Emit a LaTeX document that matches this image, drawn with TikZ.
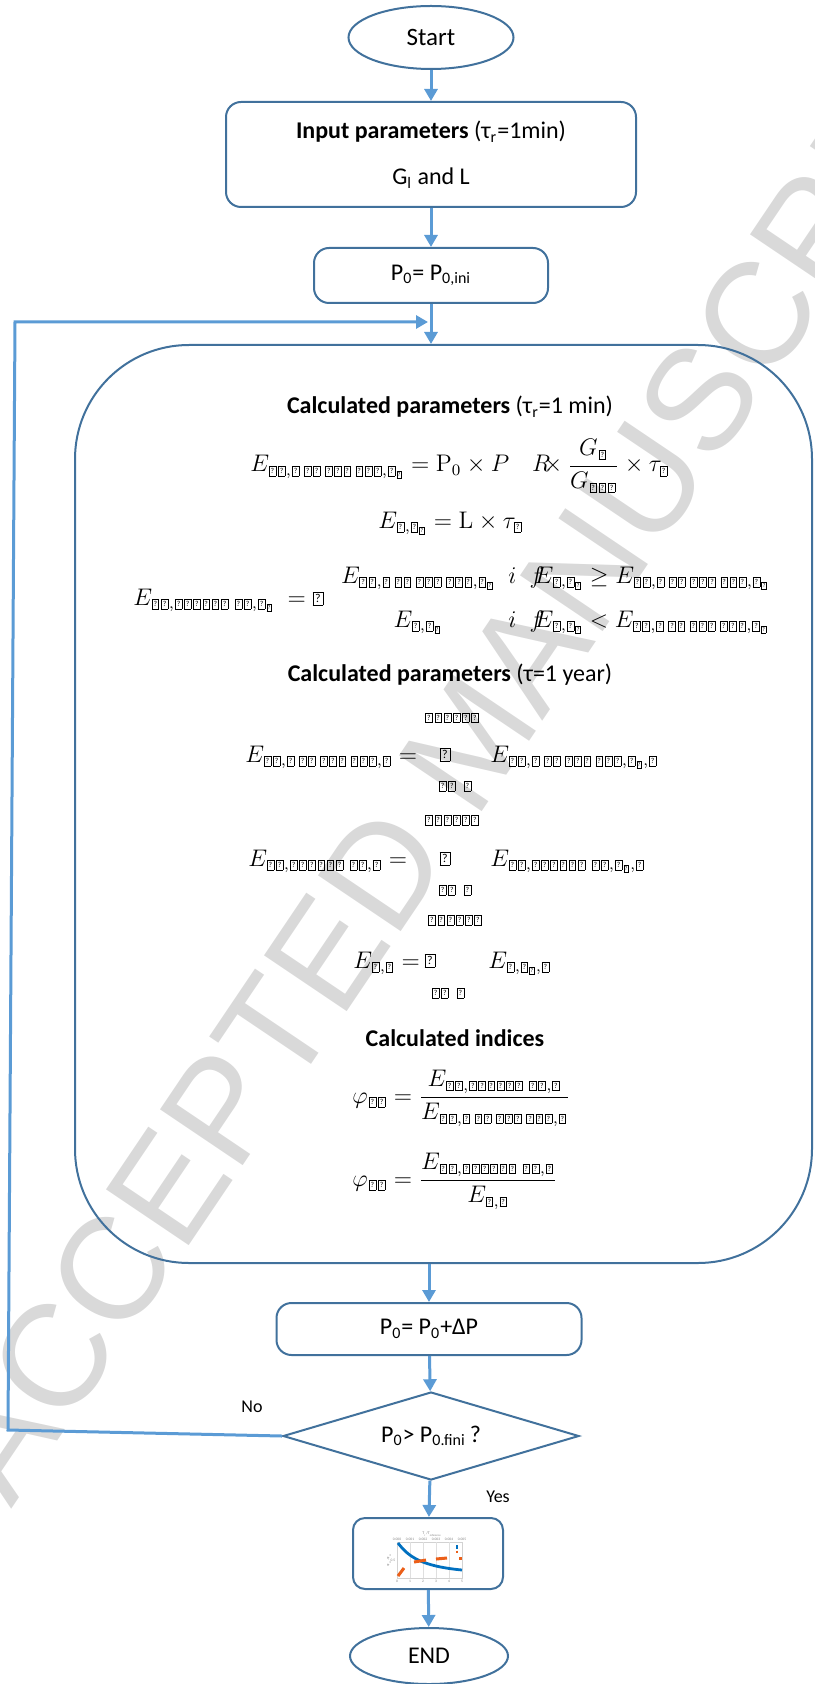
\documentclass[tikz,border=0pt]{standalone}
\usepackage[no-math]{fontspec}
\setmainfont{Carlito}
\newfontfamily\wmfont{Liberation Sans}
\usepackage{amsmath}
\usetikzlibrary{shapes.geometric,arrows.meta}
\definecolor{boxblue}{RGB}{65,113,156}
\definecolor{arrblue}{RGB}{91,155,213}
\definecolor{wmgray}{RGB}{217,217,217}
\definecolor{plotblue}{RGB}{0,112,192}
\definecolor{plotorange}{RGB}{235,95,25}
\newcommand{\qbox}[3]{\mbox{\setlength{\fboxsep}{0pt}\setlength{\fboxrule}{0.25pt}\fbox{\vbox to #2{\vss\hbox to #1{\hss\fontsize{#3}{#3}\selectfont ?\hss}\vss}}}}
\newcommand{\qs}{\kern0.5pt\qbox{3.1pt}{4.5pt}{3.8}\kern0.5pt}
\newcommand{\qss}{\kern0.2pt\qbox{2.2pt}{3.2pt}{2.8}\kern0.2pt}
\newcommand{\qL}{\qbox{4.8pt}{6.2pt}{6}}
\newcommand{\qA}{\qs\qs,\qs\,\qs\qs\,\qs\qs\qs\,\qs\qs\qs}
\newcommand{\qB}{\qs\qs,\qs\qs\qs\qs\qs\qs\;\qs\qs}
\begin{document}
\begin{tikzpicture}[x=0.5pt,y=-0.5pt,
  box/.style={draw=boxblue, line width=1pt, rounded corners=7.5pt, inner sep=0pt, font=\fontsize{12}{14}\selectfont},
  term/.style={draw=boxblue, line width=1pt, ellipse, inner sep=0pt},
  conn/.style={draw=arrblue, line width=1.5pt, -{Triangle[length=6pt,width=6.5pt]}},
  txt/.style={inner sep=0pt, font=\fontsize{12}{14}\selectfont},
  mth/.style={inner sep=0pt, font=\fontsize{11.5}{13}\selectfont},
  lbl/.style={inner sep=0pt, font=\fontsize{9}{11}\selectfont},
  tiny/.style={inner sep=0pt, text=gray, font=\fontsize{1.8}{2}\selectfont}]
\useasboundingbox (0,0) rectangle (814,1684);
% watermark
\begin{scope}
\clip (0,0) rectangle (814,1684);
\node[text=wmgray, rotate=56, inner sep=0pt, font=\wmfont\fontsize{72.5}{74}\selectfont] (wm) at (470,740) {ACCEPTED MANUSCRIPT};
\end{scope}
% flow nodes
\node[term, minimum width=82.5pt, minimum height=31.5pt, font=\fontsize{12.5}{14}\selectfont] (start) at (431,37.5) {Start};
\node[box, minimum width=205pt, minimum height=52.5pt, align=center] (inp) at (431,154.5) {\textbf{Input parameters} (τ\textsubscript{r}=1min)\\[9pt]G\textsubscript{l} and L};
\node[box, minimum width=117pt, minimum height=27.5pt] (p0) at (431,275.5) {P\textsubscript{0}= P\textsubscript{0,ini}};
\node[draw=boxblue, line width=1pt, rounded corners=57pt, minimum width=368.5pt, minimum height=459pt, inner sep=0pt] (calc) at (443.5,804) {};
\node[box, minimum width=152.5pt, minimum height=26pt] (upd) at (429,1329) {P\textsubscript{0}= P\textsubscript{0}+ΔP};
\node[draw=boxblue, line width=1pt, diamond, aspect=3.36, minimum width=148pt, minimum height=44pt, inner sep=1pt, font=\fontsize{12}{14}\selectfont] (dec) at (431,1436) {P\textsubscript{0}> P\textsubscript{0.fini}\,?};
\node[box, rounded corners=6pt, minimum width=75pt, minimum height=35.5pt] (plot) at (428,1553.5) {};
\node[term, minimum width=79pt, minimum height=28pt, font=\fontsize{12}{14}\selectfont] (end) at (429,1656) {END};
% contents of calc
\node[txt] (h1) at (450,407) {\textbf{Calculated parameters} (τ\textsubscript{r}=1 min)};
\node[mth, anchor=base west] (eqa) at (250,472) {$E_{\qA,\qs_{\qss}} = \mathrm{P}_0\times P\quad R\mkern-9mu\times\dfrac{G_{\qs}}{G_{\qs\qs\qs}}\times\tau_{\qs}$};
\node[mth, anchor=base west] (eqb) at (378,528) {$E_{\qs,\qs_{\qss}} = \mathrm{L}\times\tau_{\qs}$};
\node[mth, anchor=base west] (eqcl) at (133,605) {$E_{\qB,\qs_{\qss}}\; = \qL$};
\node[mth, anchor=base] (eqc1) at (418,583) {$E_{\qA,\qs_{\qss}}$};
\node[mth, anchor=base] (eqc2) at (418,627) {$E_{\qs,\qs_{\qss}}$};
\node[mth, anchor=base west] (eqc3) at (508,583) {$i\;\;f\mkern-7mu E_{\qs,\qs_{\qss}} \geq E_{\qA,\qs_{\qss}}$};
\node[mth, anchor=base west] (eqc4) at (508,627) {$i\;\;f\mkern-7mu E_{\qs,\qs_{\qss}} < E_{\qA,\qs_{\qss}}$};
\node[txt] (h2) at (450,675) {\textbf{Calculated parameters} (τ=1 year)};
% eq 4
\node[mth, anchor=base west] (eqd) at (245,762) {$E_{\qA,\qs} =$};
\node[mth, anchor=base] (sumd) at (445,761) {\qL};
\node[mth] (topd) at (452,717.5) {\qs\qs\qs\qs\qs\qs};
\node[mth] (botd) at (455,786) {\qs\qs\;\qs};
\node[mth, anchor=base west] (eqdr) at (490,762) {$E_{\qA,\qs_{\qss},\qs}$};
% eq 5
\node[mth, anchor=base west] (eqe) at (248,866) {$E_{\qB,\qs} =$};
\node[mth, anchor=base] (sume) at (445,865) {\qL};
\node[mth] (tope) at (452,820) {\qs\qs\qs\qs\qs\qs};
\node[mth] (bote) at (455,890) {\qs\qs\;\qs};
\node[mth, anchor=base west] (eqer) at (490,866) {$E_{\qB,\qs_{\qss},\qs}$};
% eq 6
\node[mth, anchor=base west] (eqf) at (353,968) {$E_{\qs,\qs} =$};
\node[mth, anchor=base] (sumf) at (430,967) {\qL};
\node[mth] (topf) at (455,920) {\qs\qs\qs\qs\qs\qs};
\node[mth] (botf) at (448,993) {\qs\qs\;\qs};
\node[mth, anchor=base west] (eqfr) at (488,968) {$E_{\qs,\qs_{\qss},\qs}$};
\node[txt] (h3) at (455,1038) {\textbf{Calculated indices}};
\node[mth, anchor=base west] (phia) at (352,1103) {$\varphi_{\qs\qs} = \dfrac{E_{\qB,\qs}}{E_{\qA,\qs}}$};
\node[mth, anchor=base west] (phib) at (352,1186) {$\varphi_{\qs\qs} = \dfrac{E_{\qB,\qs}}{E_{\qs,\qs}}$};
% connectors
\draw[conn] (start) -- (inp);
\draw[conn] (inp) -- (p0);
\draw[conn] (p0.south) -- (p0.south |- calc.north);
\draw[conn] (calc.south -| upd.north) -- (upd.north);
\draw[conn] (upd) -- (dec);
\draw[conn] (dec) -- (plot);
\draw[conn] (plot) -- (end);
\coordinate (lpA) at (8,1430);
\coordinate (lpB) at (15,322);
\coordinate (lpC) at (428,322);
\draw[conn] (dec.west) -- (lpA) -- (lpB) -- (lpC);
\node[lbl] (no) at (252,1407) {No};
\node[lbl] (yes) at (498,1497) {Yes};
% mini chart
\draw[gray!35, line width=0.15pt] (397,1542) rectangle (462,1578);
\foreach \xx in {410,423,436,449} \draw[gray!25, line width=0.15pt] (\xx,1542) -- (\xx,1578);
\draw[plotblue, line width=1.4pt] (398,1543) .. controls (408,1556) and (420,1566) .. (462,1570);
\draw[plotorange, line width=1.5pt] (398,1576) -- (404,1568);
\draw[plotorange, line width=1.5pt] (414,1562) -- (426,1560);
\draw[plotorange, line width=1.5pt] (436,1559) -- (447,1558);
\draw[plotorange, line width=1.5pt] (459,1558) -- (462,1558);
\draw[plotblue, line width=1pt] (457,1545) -- (457,1549);
\draw[plotorange, line width=1pt] (457,1550.5) -- (457,1552.5);
\foreach \xx/\lab [count=\k] in {397/0.000,410/0.001,423/0.002,436/0.003,449/0.004,462/0.005}
  \node[tiny] (tk\k) at (\xx,1539) {\lab};
\foreach \xx/\lab [count=\k] in {397/0,410/1,423/2,436/3,449/4,462/5}
  \node[tiny] (bk\k) at (\xx,1581) {\lab};
\node[tiny] (lt1) at (393,1560) {0.5};
\node[tiny, font=\fontsize{2}{2}\selectfont] (ctitle) at (432,1534) {T\textsubscript{r}/T\textsubscript{reference}};
\node[tiny, rotate=90] (cyl) at (389,1560) {φ\textsubscript{sc}, φ\textsubscript{ss}};
\end{tikzpicture}
\end{document}
